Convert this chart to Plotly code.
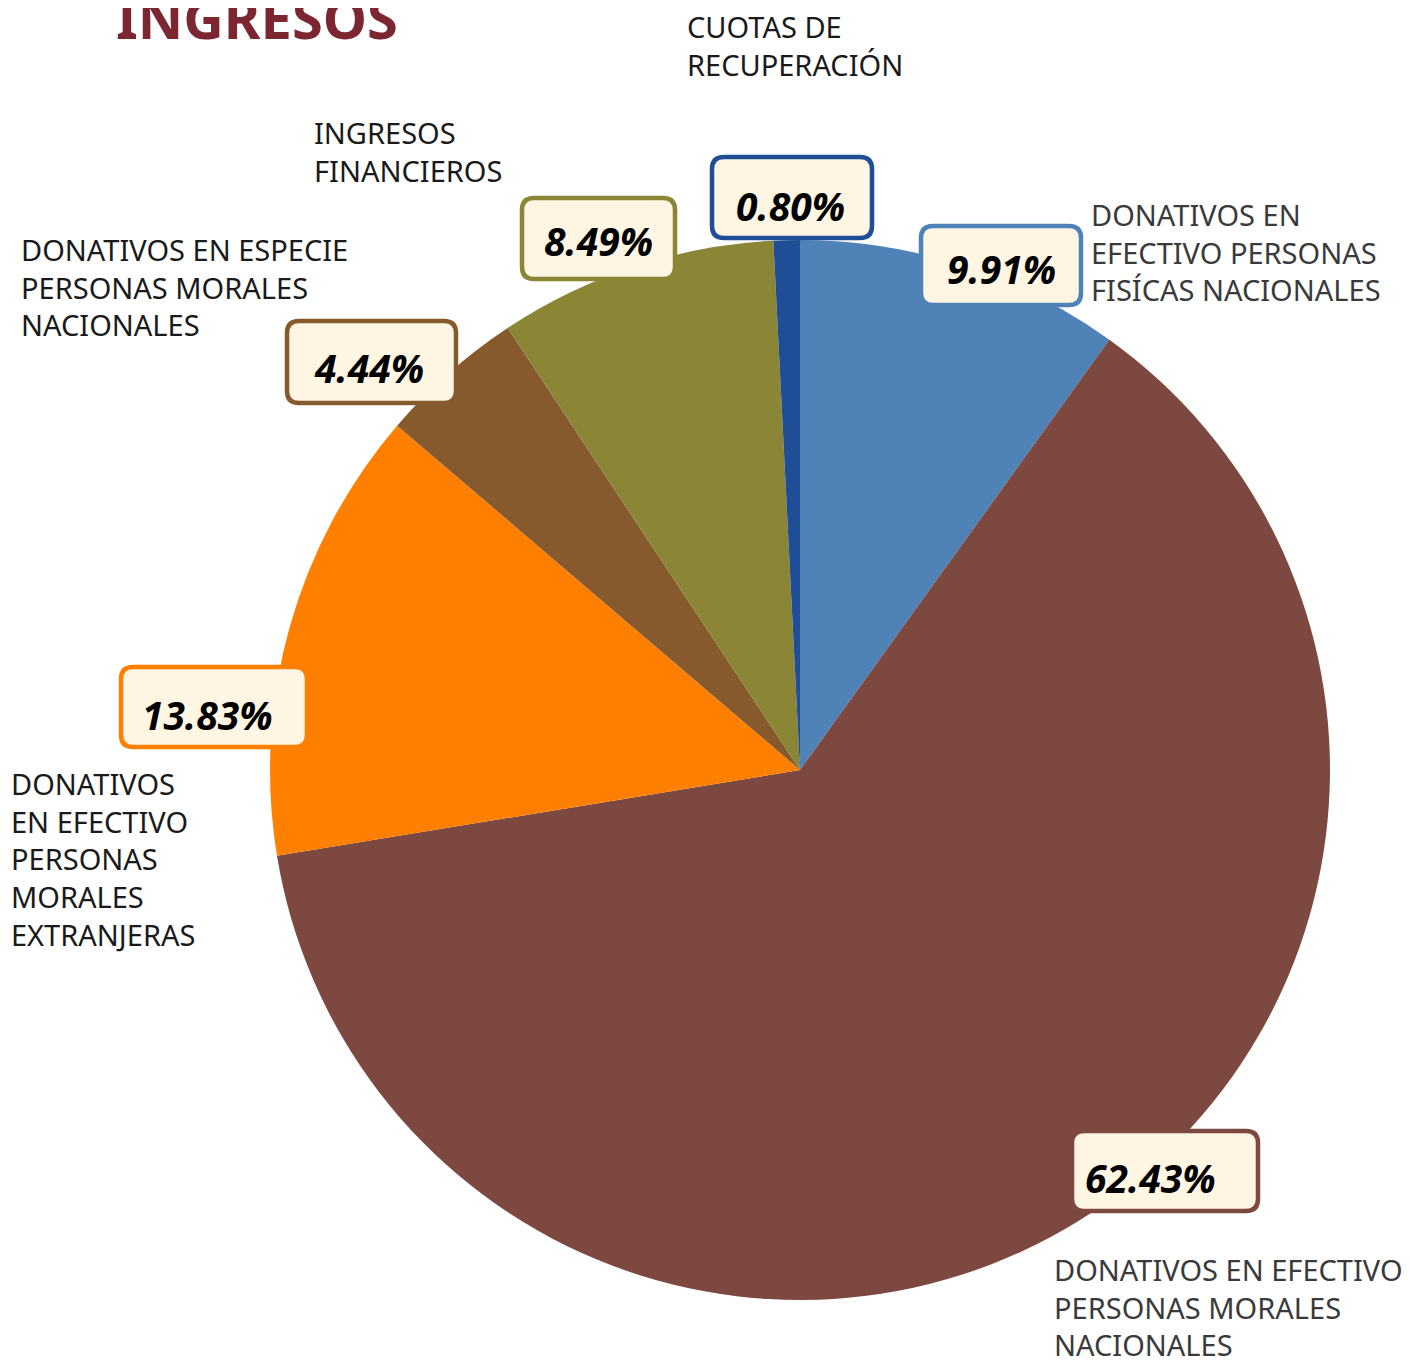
import plotly.graph_objects as go

# ---- data ----
categories = [
    "DONATIVOS EN EFECTIVO PERSONAS FISÍCAS NACIONALES",
    "DONATIVOS EN EFECTIVO PERSONAS MORALES NACIONALES",
    "DONATIVOS EN EFECTIVO PERSONAS MORALES EXTRANJERAS",
    "DONATIVOS EN ESPECIE PERSONAS MORALES NACIONALES",
    "INGRESOS FINANCIEROS",
    "CUOTAS DE RECUPERACIÓN",
]
values = [9.91, 62.43, 13.83, 4.44, 8.49, 0.80]
pct_labels = ["9.91%", "62.43%", "13.83%", "4.44%", "8.49%", "0.80%"]
cat_labels = [
    "DONATIVOS EN<br>EFECTIVO PERSONAS<br>FISÍCAS NACIONALES",
    "DONATIVOS EN EFECTIVO<br>PERSONAS MORALES<br>NACIONALES",
    "DONATIVOS<br>EN EFECTIVO<br>PERSONAS<br>MORALES<br>EXTRANJERAS",
    "DONATIVOS EN ESPECIE<br>PERSONAS MORALES<br>NACIONALES",
    "INGRESOS<br>FINANCIEROS",
    "CUOTAS DE<br>RECUPERACIÓN",
]
colors = ["#4F83B8", "#7D4840", "#FF8000", "#875A2D", "#8A8636", "#1F4E96"]

# ---- layout geometry (screen pixels; page body has an 8px margin) ----
OFF = 8
W, H = 1410 - OFF, 1363 - OFF
def px(x):
    return (x - OFF) / W
def py(y):
    return 1 - (y - OFF) / H

cx, cy, R = 800, 770, 530

# label boxes: (x0, y0, x1, y1)
boxes = [
    (921, 226, 1081, 305),
    (1072, 1131, 1258, 1211),
    (121, 667, 307, 747),
    (287, 321, 456, 403),
    (522, 198, 675, 279),
    (712, 157, 872, 238),
]
# percentage text centres
pct_pos = [
    (1001, 268),
    (1150, 1177),
    (207, 714),
    (369, 368),
    (598, 240),
    (791, 205),
]
# category label anchors (left x, top y)
cat_pos = [
    (1089, 193),
    (1052, 1248),
    (9, 762),
    (19, 228),
    (312, 111),
    (685, 5),
]
cat_colors = ["#3a3a3a", "#3a3a3a", "#1a1a1a", "#1a1a1a", "#1a1a1a", "#1a1a1a"]

fig = go.Figure()
fig.add_trace(go.Pie(
    labels=categories,
    values=values,
    marker=dict(colors=colors, line=dict(width=0)),
    sort=False,
    direction="clockwise",
    rotation=0,
    textinfo="none",
    hoverinfo="label+percent",
    showlegend=False,
    domain=dict(x=[px(cx - R), px(cx + R)], y=[py(cy + R), py(cy - R)]),
))

def rounded_path(x0, y0, x1, y1, r):
    X0, X1 = px(x0), px(x1)
    Y0, Y1 = py(y0), py(y1)
    rx, ry = r / W, r / H
    return (f"M {X0+rx},{Y0} L {X1-rx},{Y0} Q {X1},{Y0} {X1},{Y0-ry} "
            f"L {X1},{Y1+ry} Q {X1},{Y1} {X1-rx},{Y1} L {X0+rx},{Y1} "
            f"Q {X0},{Y1} {X0},{Y1+ry} L {X0},{Y0-ry} Q {X0},{Y0} {X0+rx},{Y0} Z")

shapes = []
annotations = []
for (x0, y0, x1, y1), c in zip(boxes, colors):
    shapes.append(dict(type="path", xref="paper", yref="paper",
                       path=rounded_path(x0, y0, x1, y1, 12),
                       fillcolor="#FEF6E3", line=dict(color=c, width=4.5)))
for (x, y), t in zip(pct_pos, pct_labels):
    annotations.append(dict(x=px(x), y=py(y),
                            xref="paper", yref="paper", text=f"<b><i>{t}</i></b>",
                            showarrow=False, xanchor="center", yanchor="middle",
                            font=dict(family="Noto Sans", size=39, color="#000000")))

for (x, y), t, c in zip(cat_pos, cat_labels, cat_colors):
    annotations.append(dict(x=px(x), y=py(y), xref="paper", yref="paper",
                            text=t, showarrow=False, xanchor="left", yanchor="top",
                            align="left",
                            font=dict(family="Noto Sans", size=29, color=c)))

annotations.append(dict(x=px(114), y=py(-23), xref="paper", yref="paper",
                        text="<b>INGRESOS</b>", showarrow=False,
                        xanchor="left", yanchor="top",
                        font=dict(family="Noto Sans", size=56, color="#7B2630")))

fig.update_layout(
    width=W, height=H,
    margin=dict(l=0, r=0, t=0, b=0),
    paper_bgcolor="#FFFFFF",
    plot_bgcolor="#FFFFFF",
    shapes=shapes,
    annotations=annotations,
)

fig.write_html("out.html")
